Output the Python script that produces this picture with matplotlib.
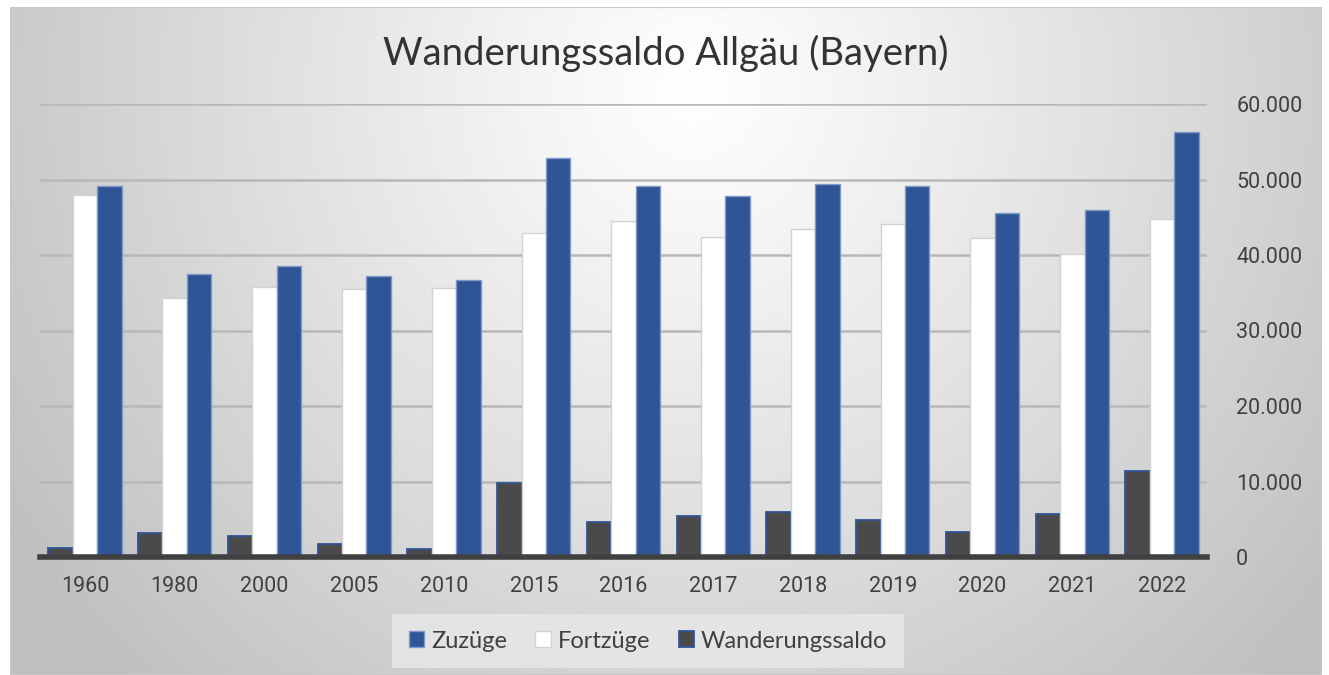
import matplotlib
matplotlib.use("Agg")
import matplotlib.pyplot as plt
import numpy as np
from matplotlib.ticker import FuncFormatter, MultipleLocator
from matplotlib.patches import Rectangle

years = ["1960", "1980", "2000", "2005", "2010", "2015", "2016", "2017", "2018", "2019", "2020", "2021", "2022"]
zuzuege = [49200, 37500, 38600, 37250, 36700, 52850, 49200, 47850, 49400, 49150, 45600, 45950, 56250]
fortzuege = [47950, 34300, 35800, 35500, 35600, 42950, 44500, 42350, 43500, 44150, 42200, 40100, 44750]
saldo = [1250, 3150, 2800, 1750, 1050, 9800, 4650, 5450, 5950, 4900, 3300, 5750, 11450]

title = "Wanderungssaldo Allgäu (Bayern)"
series_names = ["Zuzüge", "Fortzüge", "Wanderungssaldo"]

BLUE = "#2F5597"
DARK = "#4A4A4A"
TXT = "#404040"

W, H = 1329, 675
fig = plt.figure(figsize=(W / 100, H / 100), dpi=100)
fig.patch.set_facecolor("white")

# background gradient panel
bg = fig.add_axes([10 / W, 0, (1322 - 10) / W, 1 - 7 / H])
bg.set_axis_off()
ny, nx = 300, 600
yy, xx = np.mgrid[0:ny, 0:nx]
cx, cy = 0.52 * nx, 0.12 * ny
d = np.sqrt(((xx - cx) / (nx * 0.62)) ** 2 + ((yy - cy) / (ny * 1.25)) ** 2)
d = np.clip(d, 0, 1)
val = 1.0 - 0.25 * d ** 1.1
img = np.dstack([val, val, val])
bg.imshow(img, aspect="auto", extent=[0, 1, 0, 1], origin="upper")
bg.add_patch(Rectangle((0, 0), 1, 1, transform=bg.transAxes, fill=False,
                       edgecolor="#c8c8c8", lw=1.5))

left, right = 40 / W, 1207 / W
bottom, top = 1 - 557 / H, 1 - 104 / H
ax = fig.add_axes([left, bottom, right - left, top - bottom])
ax.patch.set_alpha(0)

x = np.arange(len(years))
w = 0.272
ax.bar(x - w, saldo, w, color=DARK, edgecolor=BLUE, linewidth=1.3, zorder=3, label=series_names[2])
ax.bar(x, fortzuege, w, color="white", edgecolor="#d2d2d2", linewidth=1.0, zorder=3, label=series_names[1])
ax.bar(x + w, zuzuege, w, color=BLUE, edgecolor="#7f98c8", linewidth=1.0, zorder=3, label=series_names[0])

ax.set_xlim(-0.5, len(years) - 0.5)
ax.set_ylim(0, 60000)
ax.yaxis.set_major_locator(MultipleLocator(10000))
ax.yaxis.set_major_formatter(FuncFormatter(lambda v, p: f"{int(v):,}".replace(",", ".")))
ax.yaxis.tick_right()
ax.grid(axis="y", color="#b8b8b8", linewidth=1.8, zorder=0)
ax.set_axisbelow(True)
for s in ["top", "right", "left"]:
    ax.spines[s].set_visible(False)
ax.spines["bottom"].set_color("#404040")
ax.spines["bottom"].set_linewidth(4)
ax.spines["bottom"].set_zorder(4)
ax.set_xticks(x)
ax.set_xticklabels(years)
ax.tick_params(axis="x", length=0, pad=14, labelsize=15.5, labelcolor=TXT)
ax.tick_params(axis="y", length=0, pad=21, labelsize=15.5, labelcolor=TXT)
for lab in ax.get_xticklabels() + ax.get_yticklabels():
    lab.set_fontfamily("Roboto")

fig.text(0.5 * (10 + 1322) / W, 1 - 53 / H, title, ha="center", va="center",
         fontsize=27.5, color="#333333", family="Lato")

handles, labels = ax.get_legend_handles_labels()
order = [2, 1, 0]
leg = fig.legend([handles[i] for i in order], [labels[i] for i in order],
                 loc="center", bbox_to_anchor=(648 / W, 1 - 641 / H), ncol=3,
                 frameon=True, handlelength=0.65, handleheight=0.65,
                 handletextpad=0.3, columnspacing=1.2,
                 prop={"family": "Lato", "size": 17})
leg.get_frame().set_facecolor("#e6e6e6")
leg.get_frame().set_edgecolor("none")
leg.get_frame().set_alpha(0.9)
leg.get_frame().set_boxstyle("square", pad=0.3)
for t in leg.get_texts():
    t.set_color(TXT)

fig.savefig("out.png", dpi=100)
